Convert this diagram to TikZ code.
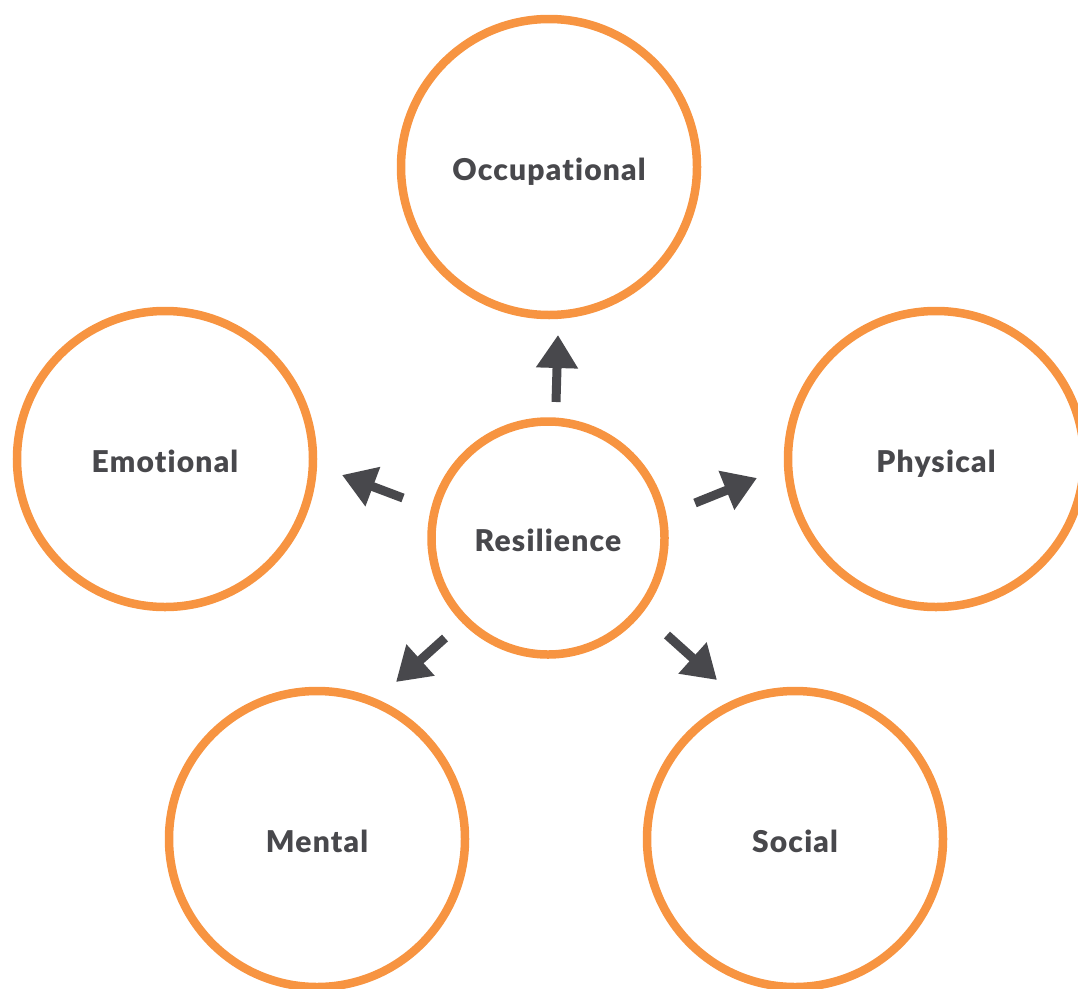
\documentclass[tikz,border=0pt]{standalone}
\usepackage{fontspec}
\newfontfamily\labelfont{Lato Black}[RawFeature=-liga, LetterSpace=4]
\usetikzlibrary{arrows.meta}
\definecolor{ringorange}{HTML}{F79441}
\definecolor{inkgray}{HTML}{48484C}
\tikzset{
  ring/.style={circle, draw=ringorange, line width=8.5pt, minimum size=#1, inner sep=0pt,
    text=inkgray, text height=26pt, text depth=0pt,
    font=\fontsize{30}{32}\selectfont\labelfont},
  push/.style={draw=inkgray, line width=9pt,
    -{Triangle[length=33pt, width=40pt]}},
}
\begin{document}
\begin{tikzpicture}[x=1pt, y=-1pt]
  \useasboundingbox (0,0) rectangle (1078,988);
  % outer rings (minimum size = centerline diameter)
  \node[ring=296pt] (occ) at (549,167) {Occupational};
  \node[ring=296pt] (emo) at (165,459) {Emotional};
  \node[ring=296pt] (phy) at (936,459) {Physical};
  \node[ring=296pt] (men) at (317,839) {Mental};
  \node[ring=296pt] (soc) at (795,839) {Social};
  % central ring
  \node[ring=233pt] (res) at (548,538) {Resilience};
  % arrow ends
  \coordinate (tUp) at (556,402);  \coordinate (hUp) at (558,335);
  \coordinate (tL) at (403,498);   \coordinate (hL) at (342,475);
  \coordinate (tR) at (695,503);   \coordinate (hR) at (757,478);
  \coordinate (tDL) at (445,638);  \coordinate (hDL) at (396,682);
  \coordinate (tDR) at (667,635);  \coordinate (hDR) at (717,680);
  \draw[push] (tUp) -- (hUp);
  \draw[push] (tL) -- (hL);
  \draw[push] (tR) -- (hR);
  \draw[push] (tDL) -- (hDL);
  \draw[push] (tDR) -- (hDR);
\end{tikzpicture}
\end{document}
